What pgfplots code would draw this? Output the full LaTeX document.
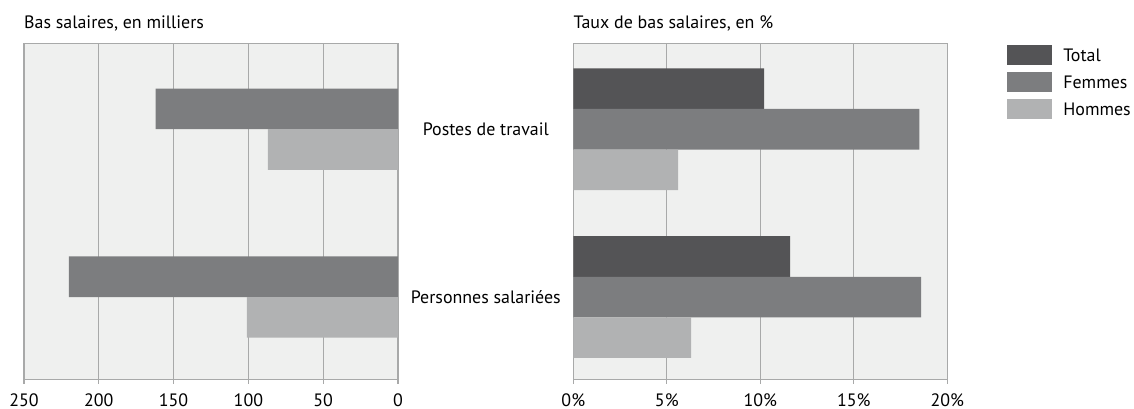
\documentclass[border=0pt]{standalone}
\usepackage{fontspec}
\setmainfont{PT Sans}
\usepackage{pgfplots}
\pgfplotsset{compat=1.18}
\definecolor{cTotal}{HTML}{545456}
\definecolor{cFemmes}{HTML}{7C7D7F}
\definecolor{cHommes}{HTML}{B1B2B3}
\definecolor{bgpanel}{HTML}{EFF0EF}
\definecolor{axgray}{HTML}{A8A9A9}
\newcommand{\lbl}{\fontsize{18}{21}\selectfont}
\pgfplotsset{
  panel/.style={
    scale only axis, width=374bp, height=336bp,
    xbar, bar width=0.242, ymin=-0.49, ymax=1.512,
    axis background/.style={fill=bgpanel},
    axis line style={axgray, line width=1.6bp},
    xmajorgrids, major grid style={axgray, line width=1.3bp},
    tick align=outside, xtick pos=left, major tick length=4.5bp,
    tick style={axgray, line width=1.3bp},
    ytick style={draw=none},
    tick label style={font=\lbl, text=black},
    xticklabel style={yshift=-6bp},
    /pgf/number format/assume math mode=true,
    title style={at={(0,1)}, anchor=base west, yshift=9bp, font=\lbl, inner sep=0pt},
    every axis plot/.append style={draw=none},
  },
}
\begin{document}
\begin{tikzpicture}
% page frame, top-left at (0,0), 1 px = 1 bp
\path[use as bounding box] (0bp,0bp) rectangle (1134bp,-409bp);

% bas salaires, en milliers (y: 0 = personnes salariees, 1 = postes de travail)
\begin{axis}[panel, at={(24bp,-379.3bp)}, anchor=south west,
  title={Bas salaires, en milliers},
  x dir=reverse, xmin=0, xmax=250, xtick={0,50,100,150,200,250},
  ytick=\empty]
\addplot[fill=cFemmes, bar shift=0.121] coordinates {(220,0) (162,1)};
\addplot[fill=cHommes, bar shift=-0.121] coordinates {(101,0) (87,1)};
\end{axis}

% taux de bas salaires, en %
\begin{axis}[panel, at={(573.3bp,-379.3bp)}, anchor=south west,
  title={Taux de bas salaires, en \%},
  xmin=0, xmax=20, xtick={0,5,10,15,20},
  xticklabel={\pgfmathprintnumber{\tick}\%},
  ytick={0,1}, yticklabels={Personnes salariées, Postes de travail},
  yticklabel style={anchor=center, xshift=-83bp},
  legend style={at={(1.152,1)}, anchor=north west, draw=none, fill=none,
    font=\lbl, row sep=7bp, nodes={inner sep=1bp},
    /tikz/every odd column/.append style={column sep=10bp}},
  legend cell align=left,
  legend image code/.code={\fill[#1] (0bp,-10bp) rectangle (45bp,10bp);}]
\addplot[fill=cTotal, bar shift=0.242] coordinates {(11.6,0) (10.2,1)};
\addlegendentry{Total}
\addplot[fill=cFemmes, bar shift=0] coordinates {(18.6,0) (18.5,1)};
\addlegendentry{Femmes}
\addplot[fill=cHommes, bar shift=-0.242] coordinates {(6.3,0) (5.6,1)};
\addlegendentry{Hommes}
\end{axis}
\end{tikzpicture}
\end{document}
